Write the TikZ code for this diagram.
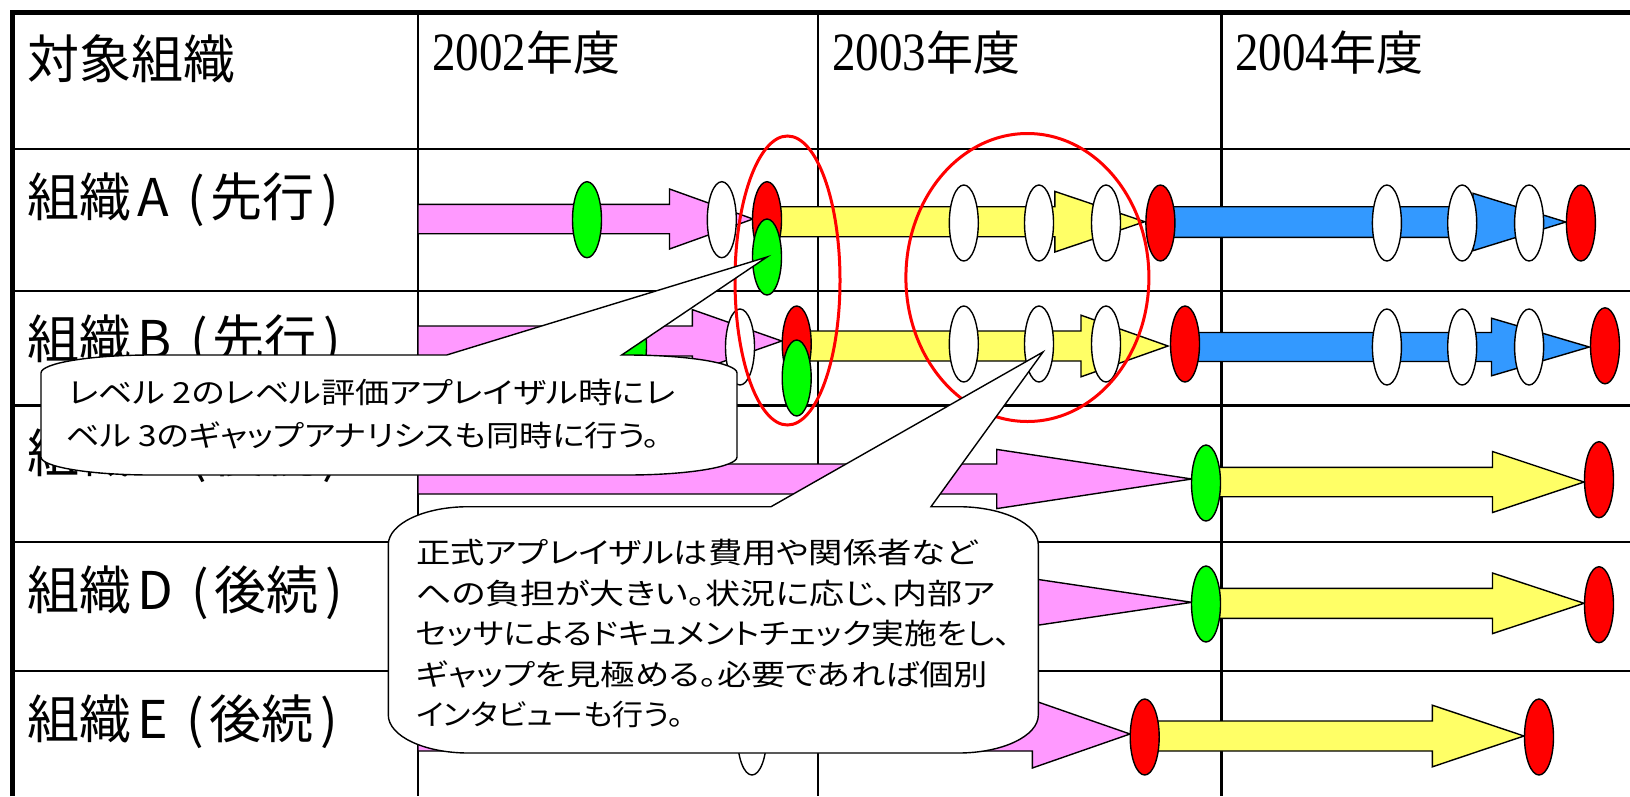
\documentclass[tikz,border=0pt]{standalone}
\usepackage{fontspec}
\setmainfont{Noto Sans CJK JP}
\newfontfamily\jp{Noto Sans CJK JP}
\newfontfamily\jpp[RawFeature={+palt}]{Noto Sans CJK JP}
\newfontfamily\tms{Liberation Serif}
\usetikzlibrary{shapes.geometric}
\definecolor{cpink}{RGB}{255,153,255}
\definecolor{cyel}{RGB}{255,255,102}
\definecolor{cblue}{RGB}{51,153,255}
\definecolor{cgreen}{RGB}{0,255,0}
\definecolor{cred}{RGB}{255,0,0}
\newcommand\blockarr[7]{%
  \draw[barrow,fill=#1] (#2,{#5-#6}) -- (#3,{#5-#6}) -- (#3,{#5-#7}) -- (#4,#5) -- (#3,{#5+#7}) -- (#3,{#5+#6}) -- (#2,{#5+#6}) -- cycle;}
\newcommand\fitline[2]{\resizebox{#1}{\height}{#2}}
\tikzset{
  gridline/.style={line width=2.2pt, black},
  frameline/.style={line width=5pt, black, line join=miter},
  barrow/.style={draw=black, line width=1.4pt, line join=miter},
  oval/.style={ellipse, draw=black, line width=1.4pt, minimum width=29pt, minimum height=76pt, inner sep=0pt},
  wo/.style={oval, fill=white},
  go/.style={oval, fill=cgreen},
  ro/.style={oval, fill=cred},
  ring/.style={ellipse, draw=cred, line width=3pt, inner sep=0pt},
  callbox/.style={draw=black, fill=white, line width=1.4pt, line join=miter},
  rowlabel/.style={anchor=base west, inner sep=0pt, font=\jp\fontsize{52}{60}\selectfont},
  yearlabel/.style={anchor=base west, inner sep=0pt},
  ctext/.style={anchor=base west, inner sep=0pt, font=\jpp\fontsize{29}{40}\selectfont},
}
\newcommand\yr[1]{{\tms\fontsize{54}{60}\selectfont\scalebox{0.87}[1]{#1}}{\jp\fontsize{47}{55}\selectfont 年度}}
\newcommand\orglabel[2]{組織\kern6pt#1\kern19pt(\kern5pt#2\kern7pt)}
\begin{document}
\begin{tikzpicture}[x=1pt,y=-1pt]
\useasboundingbox[fill=white] (0,0) rectangle (1630,796);
% grid
\foreach \yy in {149,291,405.5,542,671} \draw[gridline] (12,\yy) -- (1630,\yy);
\foreach \xx in {418,818,1221.5} \draw[gridline] (\xx,12) -- (\xx,796);
\draw[frameline] (12.5,796) -- (12.5,12) -- (1630,12);
% header texts
\node[rowlabel] (hdr) at (27,78) {対象組織};
\node[yearlabel] (y2) at (432,70) {\yr{2002}};
\node[yearlabel] (y3) at (832,70) {\yr{2003}};
\node[yearlabel] (y4) at (1235,70) {\yr{2004}};
% row labels
\node[rowlabel] (la) at (27,216) {\orglabel{A}{先行}};
\node[rowlabel] (lb) at (27,358) {\orglabel{B}{先行}};
\node[rowlabel] (lc) at (27,472) {\orglabel{C}{後続}};
\node[rowlabel] (ld) at (27,609) {\orglabel{D}{後続}};
\node[rowlabel] (le) at (27,738) {\orglabel{E}{後続}};
% row A
\blockarr{cpink}{418}{669.5}{753}{219}{14.7}{30}
\blockarr{cyel}{767}{1054.8}{1144.7}{221.7}{15}{30.3}
\blockarr{cblue}{1160}{1473}{1565.8}{222}{15.3}{28.7}
\node[go] (gA1) at (587,219.7) {};
\node[wo] (wA1) at (721.8,219.7) {};
\node[ro] (rA1) at (767,219.7) {};
\node[go] (gA2) at (767,257) {};
\node[wo] (wA2) at (963.8,223) {};
\node[wo] (wA3) at (1039,223) {};
\node[wo] (wA4) at (1106,223) {};
\node[ro] (rA2) at (1160.4,223) {};
\node[wo] (wA5) at (1386.9,223) {};
\node[wo] (wA6) at (1462.2,223) {};
\node[wo] (wA7) at (1529.1,223) {};
\node[ro] (rA3) at (1580.9,223) {};
% row B
\blockarr{cpink}{418}{692.3}{781.7}{341}{15}{31.4}
\blockarr{cyel}{797}{1081}{1168}{346}{15}{30.8}
\blockarr{cblue}{1185}{1491.5}{1589.3}{347}{14.5}{28.8}
\node[go] (gB1) at (632,346) {};
\node[wo] (wB1) at (740,347) {};
\node[ro] (rB1) at (796.7,344) {};
\node[go] (gB2) at (796.7,378) {};
\node[wo] (wB2) at (963.8,344) {};
\node[wo] (wB3) at (1039,344) {};
\node[wo] (wB4) at (1106,344) {};
\node[ro] (rB2) at (1185,344) {};
\node[wo] (wB5) at (1386.9,347) {};
\node[wo] (wB6) at (1462.2,347) {};
\node[wo] (wB7) at (1529.1,347) {};
\node[ro] (rB3) at (1605,345.8) {};
% row C
\blockarr{cpink}{418}{996.7}{1191.8}{479}{15}{29.6}
\blockarr{cyel}{1206}{1492.5}{1584}{482}{14.7}{30.5}
\node[go] (gC1) at (1206,483) {};
\node[ro] (rC1) at (1599,479.7) {};
% row D
\blockarr{cpink}{418}{996.7}{1191.8}{602.3}{15}{29}
\blockarr{cyel}{1206}{1492.5}{1584}{603.3}{15}{30.3}
\node[go] (gD1) at (1206,604) {};
\node[ro] (rD1) at (1599,604.7) {};
% row E
\blockarr{cpink}{418}{1032.3}{1130}{734}{17}{34}
\blockarr{cyel}{1145}{1432.4}{1524}{736}{15}{30.8}
\node[wo] (wE1) at (752,737) {};
\node[ro] (rE1) at (1144.7,737) {};
\node[ro] (rE2) at (1539,737) {};
% red rings
\node[ring, minimum width=105pt, minimum height=289pt] (ring1) at (787.5,280.5) {};
\node[ring, minimum width=243pt, minimum height=288pt] (ring2) at (1027.4,277.5) {};
% callout 1
\draw[callbox] (446.7,355) -- (gA2.center) -- (621.7,355) -- (627,355)
  .. controls (687.75,355) and (737,363.06) .. (737,373)
  -- (737,457)
  .. controls (737,466.94) and (687.75,475) .. (627,475)
  -- (151,475)
  .. controls (90.25,475) and (41,466.94) .. (41,457)
  -- (41,373)
  .. controls (41,363.06) and (90.25,355) .. (151,355)
  -- cycle;
\node[ctext] (c1a) at (68,403) {\fitline{607pt}{レベル 2のレベル評価アプレイザル時にレ}};
\node[ctext] (c1b) at (66,446) {\fitline{594pt}{ベル 3のギャップアナリシスも同時に行う。}};
% callout 2
\coordinate (tip2) at (1043,352);
\draw[callbox] (771,506.7) -- (tip2) -- (931,506.7) -- (958.3,506.7)
  .. controls (1002.5,506.7) and (1038.3,523.7) .. (1038.3,544.7)
  -- (1038.3,715)
  .. controls (1038.3,736) and (1002.5,753) .. (958.3,753)
  -- (468.3,753)
  .. controls (424.1,753) and (388.3,736) .. (388.3,715)
  -- (388.3,544.7)
  .. controls (388.3,523.7) and (424.1,506.7) .. (468.3,506.7)
  -- cycle;
\node[ctext] (c2a) at (416,563.5) {\fitline{561pt}{正式アプレイザルは費用や関係者など}};
\node[ctext] (c2b) at (416,604) {\fitline{579pt}{への負担が大きい。状況に応じ、内部ア}};
\node[ctext] (c2c) at (416,644.5) {\fitline{595pt}{セッサによるドキュメントチェック実施をし、}};
\node[ctext] (c2d) at (416,685) {\fitline{572pt}{ギャップを見極める。必要であれば個別}};
\node[ctext] (c2e) at (416,725.5) {\fitline{267pt}{インタビューも行う。}};
\end{tikzpicture}
\end{document}
